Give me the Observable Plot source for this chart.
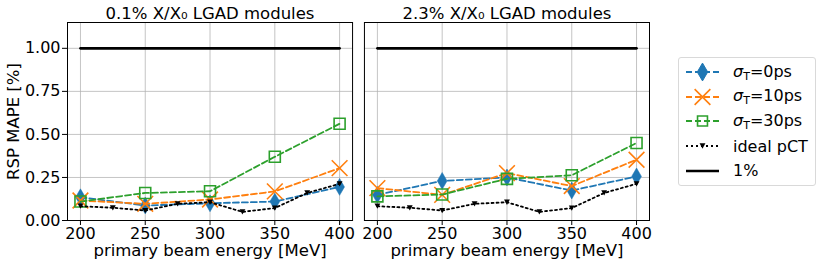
<!DOCTYPE html>
<html><head><meta charset="utf-8">
<script src="https://cdn.jsdelivr.net/npm/d3@7"></script>
<script src="https://cdn.jsdelivr.net/npm/@observablehq/plot@0.6"></script>
<style>
body{margin:0;background:#fff;font-family:"DejaVu Sans",sans-serif;}
#wrap{position:relative;width:822px;height:267px;}
#chart svg, #chart svg text{font-family:"DejaVu Sans",sans-serif;}
#chart g[aria-label="x-axis tick label"], #chart g[aria-label="y-axis tick label"]{font-size:16px;}
#chart g[aria-label="y-axis label"]{font-size:16.5px;}
#legend{position:absolute;left:678px;top:57px;width:138px;height:129px;border:1px solid #d9d9d9;border-radius:3px;box-sizing:border-box;background:#fff;}
.row{position:absolute;left:0;height:24px;display:flex;align-items:center;font-size:16px;color:#000;white-space:nowrap;}
.row svg{margin-left:6px;margin-right:13px;}
sub{font-size:11px;vertical-align:-3px;}
</style></head>
<body><div id="wrap"><div id="chart"></div><div id="legend"></div></div>
<script>
const panels = ["0.1% X/X\u2080 LGAD modules", "2.3% X/X\u2080 LGAD modules"];
const energies = [200, 250, 300, 350, 400];
const idealEnergies = [200, 225, 250, 275, 300, 325, 350, 375, 400];
const thinSigma0 = [0.135, 0.087, 0.100, 0.110, 0.195];
const thinSigma10 = [0.116, 0.097, 0.122, 0.169, 0.304];
const thinSigma30 = [0.110, 0.160, 0.170, 0.370, 0.562];
const thickSigma0 = [0.149, 0.230, 0.250, 0.174, 0.256];
const thickSigma10 = [0.188, 0.149, 0.275, 0.200, 0.353];
const thickSigma30 = [0.140, 0.151, 0.242, 0.263, 0.450];
const idealPCT = [0.083, 0.074, 0.058, 0.097, 0.106, 0.050, 0.072, 0.160, 0.213];
const limitEnergies = [200, 400];
const limitValues = [1, 1];
const yTicks = [0, 0.25, 0.5, 0.75, 1.0];
const xTicks = [200, 250, 300, 350, 400];

function rows(panel, xs, ys, series) { return xs.map((x, i) => ({panel, energy: x, value: ys[i], series})); }
const data = [
  ...rows(panels[0], energies, thinSigma0, "s0"), ...rows(panels[1], energies, thickSigma0, "s0"),
  ...rows(panels[0], energies, thinSigma10, "s10"), ...rows(panels[1], energies, thickSigma10, "s10"),
  ...rows(panels[0], energies, thinSigma30, "s30"), ...rows(panels[1], energies, thickSigma30, "s30"),
  ...rows(panels[0], idealEnergies, idealPCT, "ideal"), ...rows(panels[1], idealEnergies, idealPCT, "ideal"),
  ...rows(panels[0], limitEnergies, limitValues, "limit"), ...rows(panels[1], limitEnergies, limitValues, "limit")
];
const S = s => data.filter(d => d.series === s);

const thinDiamond = {draw(ctx, size){ const k = Math.sqrt(size); const w = k*0.42, h = k*0.72;
  ctx.moveTo(0,-h); ctx.lineTo(w,0); ctx.lineTo(0,h); ctx.lineTo(-w,0); ctx.closePath(); }};
const triDown = {draw(ctx, size){ const k = Math.sqrt(size); const w = k*0.5, h = k*0.45;
  ctx.moveTo(-w,-h); ctx.lineTo(w,-h); ctx.lineTo(0,h); ctx.closePath(); }};

const blue = "#1f77b4", orange = "#ff7f0e", green = "#2ca02c";
const common = {x: "energy", y: "value", fx: "panel"};

const chart = Plot.plot({
  width: 822, height: 267,
  marginLeft: 67, marginRight: 173, marginTop: 22, marginBottom: 47,
  style: {fontFamily: "DejaVu Sans", fontSize: "16px", background: "white", color: "black"},
  fx: {domain: panels, paddingInner: 0.04, paddingOuter: 0, round: false, axis: null, label: null},
  x: {domain: [190, 410]},
  y: {domain: [0, 1.15]},
  marks: [
    Plot.gridX({ticks: xTicks, stroke: "#b0b0b0", strokeOpacity: 0.75, strokeWidth: 1}),
    Plot.gridY({ticks: yTicks, stroke: "#b0b0b0", strokeOpacity: 0.75, strokeWidth: 1}),
    Plot.axisX({ticks: xTicks, tickSize: 5, tickPadding: 2, label: null, fontSize: 16}),
    Plot.axisY({ticks: yTicks, tickSize: 5, tickPadding: 2, tickFormat: d3.format(".2f"), fontSize: 16,
      label: "RSP MAPE [%]", labelAnchor: "center", labelArrow: "none", labelOffset: 60}),
    Plot.line(S("s0"), {...common, stroke: blue, strokeWidth: 1.8, strokeDasharray: "6,3"}),
    Plot.dot(S("s0"), {...common, symbol: thinDiamond, r: 6.6, fill: blue, stroke: blue, strokeWidth: 0.5}),
    Plot.line(S("s10"), {...common, stroke: orange, strokeWidth: 1.8, strokeDasharray: "6,3"}),
    Plot.dot(S("s10"), {...common, symbol: "times", r: 7.2, stroke: orange, strokeWidth: 1.6}),
    Plot.line(S("s30"), {...common, stroke: green, strokeWidth: 1.8, strokeDasharray: "6,3"}),
    Plot.dot(S("s30"), {...common, symbol: "square", r: 6.2, fill: "none", stroke: green, strokeWidth: 1.6}),
    Plot.line(S("ideal"), {...common, stroke: "black", strokeWidth: 1.8, strokeDasharray: "2,3"}),
    Plot.dot(S("ideal"), {...common, symbol: triDown, r: 3.3, fill: "black", stroke: "none"}),
    Plot.line(S("limit"), {...common, stroke: "black", strokeWidth: 2.6}),
    Plot.frame({stroke: "black", strokeWidth: 1}),
    Plot.text(panels, {fx: d => d, text: d => d, frameAnchor: "top", dy: -9, lineAnchor: "middle", fontSize: 16.5}),
    Plot.text(panels, {fx: d => d, text: () => "primary beam energy [MeV]", frameAnchor: "bottom", dy: 30, lineAnchor: "middle", fontSize: 16.5})
  ]
});
document.getElementById("chart").appendChild(chart);

// legend
const legendItems = [
  {label: "<i>\u03c3</i><sub>T</sub>=0ps", color: blue, dash: "6,3", sym: thinDiamond, r: 7, fill: blue, sw: 1},
  {label: "<i>\u03c3</i><sub>T</sub>=10ps", color: orange, dash: "6,3", sym: d3.symbolTimes, r: 7.2, fill: "none", sw: 1.6},
  {label: "<i>\u03c3</i><sub>T</sub>=30ps", color: green, dash: "6,3", sym: d3.symbolSquare, r: 5.6, fill: "none", sw: 1.6},
  {label: "ideal pCT", color: "black", dash: "2,3", sym: triDown, r: 3.3, fill: "black", sw: 0},
  {label: "1%", color: "black", dash: null, sym: null, sw: 2.6}
];
const lg = document.getElementById("legend");
legendItems.forEach((it, i) => {
  const row = document.createElement("div");
  row.className = "row";
  row.style.top = (2 + i * 24.7) + "px";
  const path = it.sym ? d3.symbol(it.sym, Math.PI * it.r * it.r)() : null;
  row.innerHTML = `<svg width="35" height="24"><line x1="1" x2="34" y1="12" y2="12" stroke="${it.color}" stroke-width="${it.dash ? 1.8 : 2.6}" ${it.dash ? `stroke-dasharray="${it.dash}"` : ""}/>` +
    (path ? `<path transform="translate(17.5,12)" d="${path}" fill="${it.fill}" stroke="${it.color}" stroke-width="${it.sw}"/>` : "") +
    `</svg><span>${it.label}</span>`;
  lg.appendChild(row);
});
</script></body></html>
